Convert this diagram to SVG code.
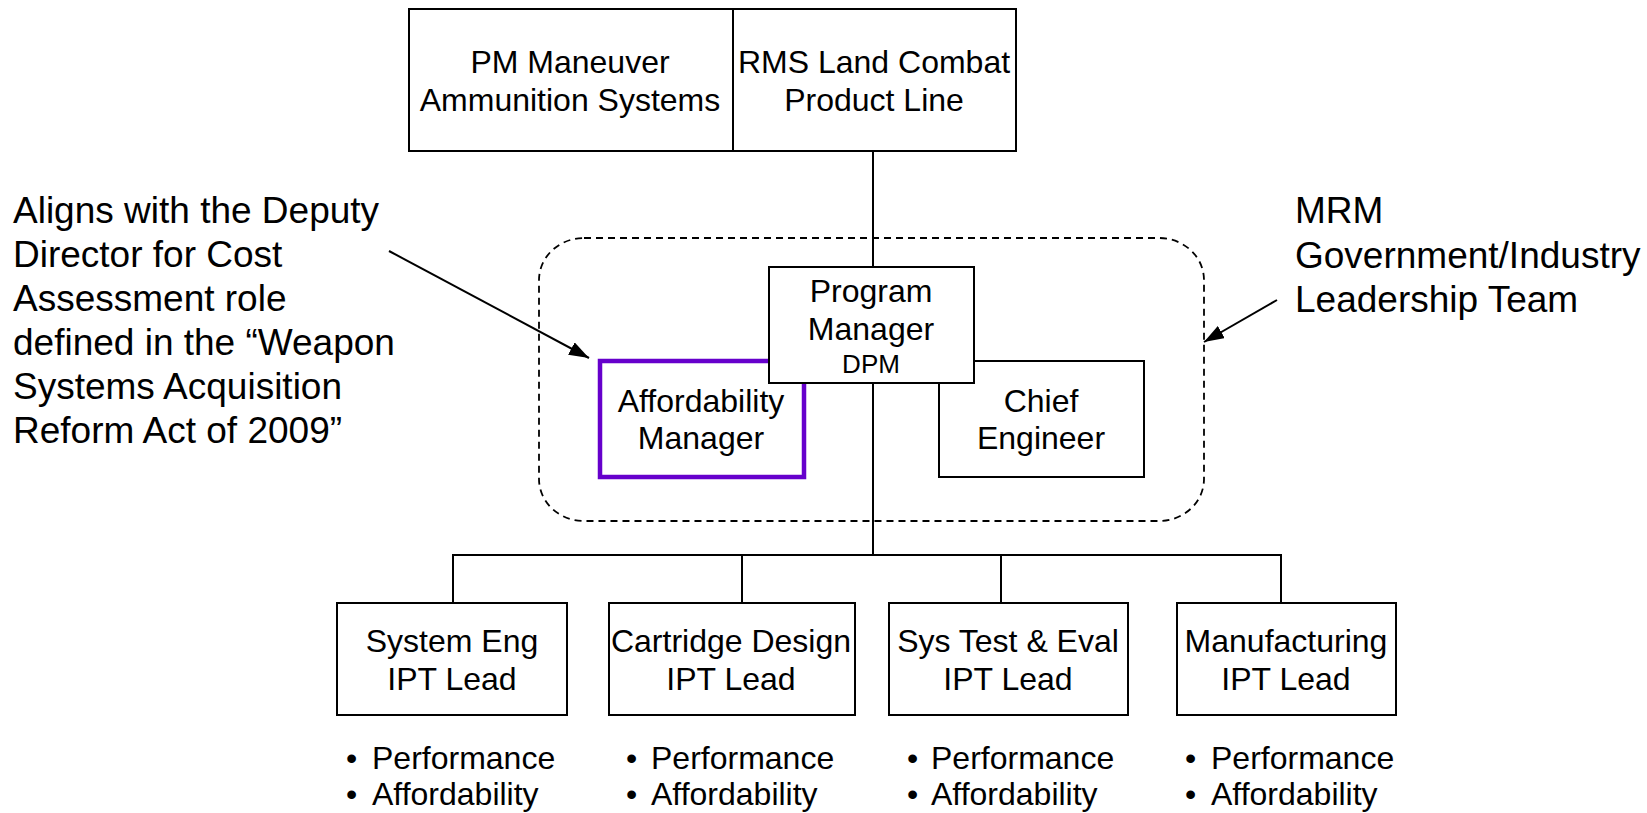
<svg xmlns="http://www.w3.org/2000/svg" width="1647" height="813" viewBox="0 0 1647 813">
<style>
.box{fill:#fff;stroke:#000;stroke-width:2}
.t{font-family:"Liberation Sans",Arial,sans-serif;font-size:32px;fill:#000;text-anchor:middle}
.a{font-family:"Liberation Sans",Arial,sans-serif;font-size:37px;fill:#000}
.b{font-family:"Liberation Sans",Arial,sans-serif;font-size:32px;fill:#000}
.ln{stroke:#000;stroke-width:2;fill:none}
</style>
<defs>
<marker id="ah" viewBox="0 0 20 14" refX="20" refY="7" markerWidth="20" markerHeight="14" markerUnits="userSpaceOnUse" orient="auto">
<path d="M0,0 L20,7 L0,14 z" fill="#000"/>
</marker>
</defs>
<rect x="539" y="238" width="665" height="283" rx="45" ry="42" fill="none" stroke="#000" stroke-width="1.8" stroke-dasharray="7,5"/>
<g id="connectors">
<line class="ln" x1="873" y1="151" x2="873" y2="267"/>
<line class="ln" x1="873" y1="383" x2="873" y2="555"/>
<polyline class="ln" points="453,603 453,555 1281,555 1281,603"/>
<line class="ln" x1="742" y1="555" x2="742" y2="603"/>
<line class="ln" x1="1001" y1="555" x2="1001" y2="603"/>
<line class="ln" x1="389" y1="251" x2="589" y2="358" marker-end="url(#ah)"/>
<line class="ln" x1="1277" y1="300" x2="1204" y2="342" marker-end="url(#ah)"/>
</g>
<g id="pm-mas">
<rect class="box" x="409" y="9" width="324" height="142"/>
<text class="t" x="570" y="73">PM Maneuver</text>
<text class="t" x="570" y="111">Ammunition Systems</text>
</g>
<g id="rms">
<rect class="box" x="733" y="9" width="283" height="142"/>
<text class="t" x="874" y="73">RMS Land Combat</text>
<text class="t" x="874" y="111">Product Line</text>
</g>
<g id="affordability">
<rect x="600" y="361" width="204" height="116" fill="#fff" stroke="#6600CC" stroke-width="4.5"/>
<text class="t" x="701" y="412">Affordability</text>
<text class="t" x="701" y="449">Manager</text>
</g>
<g id="chief">
<rect class="box" x="939" y="361" width="205" height="116"/>
<text class="t" x="1041" y="412">Chief</text>
<text class="t" x="1041" y="449">Engineer</text>
</g>
<g id="program-manager">
<rect class="box" x="769" y="267" width="205" height="116"/>
<text class="t" x="871" y="302">Program</text>
<text class="t" x="871" y="340">Manager</text>
<text class="t" x="871" y="373" style="font-size:26px">DPM</text>
</g>
<g id="ipt-se">
<rect class="box" x="337" y="603" width="230" height="112"/>
<text class="t" x="452" y="652">System Eng</text>
<text class="t" x="452" y="690">IPT Lead</text>
</g>
<g id="ipt-cd">
<rect class="box" x="609" y="603" width="246" height="112"/>
<text class="t" x="731" y="652">Cartridge Design</text>
<text class="t" x="731" y="690">IPT Lead</text>
</g>
<g id="ipt-ste">
<rect class="box" x="889" y="603" width="239" height="112"/>
<text class="t" x="1008" y="652">Sys Test &amp; Eval</text>
<text class="t" x="1008" y="690">IPT Lead</text>
</g>
<g id="ipt-mfg">
<rect class="box" x="1177" y="603" width="219" height="112"/>
<text class="t" x="1286" y="652">Manufacturing</text>
<text class="t" x="1286" y="690">IPT Lead</text>
</g>
<g id="bullets">
<text class="b" y="769"><tspan x="346">•</tspan><tspan x="372">Performance</tspan></text>
<text class="b" y="805"><tspan x="346">•</tspan><tspan x="372">Affordability</tspan></text>
<text class="b" y="769"><tspan x="626">•</tspan><tspan x="651">Performance</tspan></text>
<text class="b" y="805"><tspan x="626">•</tspan><tspan x="651">Affordability</tspan></text>
<text class="b" y="769"><tspan x="907">•</tspan><tspan x="931">Performance</tspan></text>
<text class="b" y="805"><tspan x="907">•</tspan><tspan x="931">Affordability</tspan></text>
<text class="b" y="769"><tspan x="1185">•</tspan><tspan x="1211">Performance</tspan></text>
<text class="b" y="805"><tspan x="1185">•</tspan><tspan x="1211">Affordability</tspan></text>
</g>
<g id="note-left">
<text class="a" x="13" y="223">Aligns with the Deputy</text>
<text class="a" x="13" y="267">Director for Cost</text>
<text class="a" x="13" y="311">Assessment role</text>
<text class="a" x="13" y="355">defined in the “Weapon</text>
<text class="a" x="13" y="399">Systems Acquisition</text>
<text class="a" x="13" y="443">Reform Act of 2009”</text>
</g>
<g id="note-right">
<text class="a" x="1295" y="223">MRM</text>
<text class="a" x="1295" y="268">Government/Industry</text>
<text class="a" x="1295" y="312">Leadership Team</text>
</g>
</svg>
